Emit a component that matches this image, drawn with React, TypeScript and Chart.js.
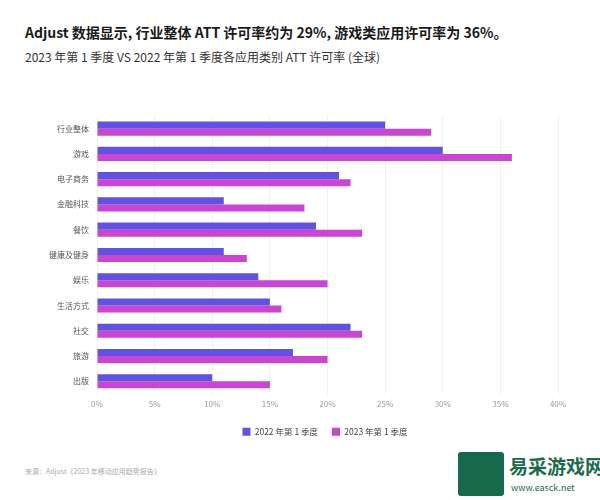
import React, { useEffect, useRef } from "react";
import { Chart, registerables } from "chart.js";

Chart.register(...registerables);

const categories = ["行业整体", "游戏", "电子商务", "金融科技", "餐饮", "健康及健身", "娱乐", "生活方式", "社交", "旅游", "出版"];
const series2022 = [25, 30, 21, 11, 19, 11, 14, 15, 22, 17, 10];
const series2023 = [29, 36, 22, 18, 23, 13, 20, 16, 23, 20, 15];
const seriesLabels = ["2022 年第 1 季度", "2023 年第 1 季度"];
const xTicks = [0, 5, 10, 15, 20, 25, 30, 35, 40];

const FONT = "'Noto Sans CJK SC', 'Noto Sans', sans-serif";

const legendShift = {
  id: "legendShift",
  afterLayout(chart: any) {
    const lg = chart.legend;
    if (lg) {
      lg.left += 46;
      lg.right += 46;
    }
  },
};

export default function App() {
  const ref = useRef<HTMLCanvasElement>(null);
  useEffect(() => {
    if (!ref.current) return;
    const chart = new Chart(ref.current, {
      type: "bar",
      data: {
        labels: categories,
        datasets: [
          { label: seriesLabels[0], data: series2022, backgroundColor: "#6352e0", borderWidth: 0, categoryPercentage: 0.56, barPercentage: 1 },
          { label: seriesLabels[1], data: series2023, backgroundColor: "#c946d2", borderWidth: 0, categoryPercentage: 0.56, barPercentage: 1 },
        ],
      },
      options: {
        indexAxis: "y",
        animation: false,
        responsive: false,
        maintainAspectRatio: false,
        layout: { padding: { left: 0, right: 42, top: 16, bottom: 0 } },
        scales: {
          x: {
            min: 0,
            max: 40,
            afterBuildTicks: (s: any) => { s.ticks = xTicks.map((v) => ({ value: v })); },
            grid: { color: "#f1f1f3", drawTicks: false },
            border: { display: false },
            ticks: { color: "#9a9a9a", font: { family: FONT, size: 8 }, padding: 5, callback: (v: any) => v + "%" },
          },
          y: {
            grid: { display: false, drawTicks: false },
            border: { display: false },
            afterFit: (s: any) => { s.width = 97; },
            ticks: { color: "#555", font: { family: FONT, size: 8 }, padding: 8 },
          },
        },
        plugins: {
          legend: {
            position: "bottom",
            labels: { boxWidth: 8, boxHeight: 8, color: "#444", font: { family: FONT, size: 8.5 }, padding: 14 },
          },
          tooltip: { enabled: false },
          title: { display: false },
        },
      },
      plugins: [legendShift],
    });
    return () => chart.destroy();
  }, []);

  return (
    <div style={{ position: "absolute", left: 0, top: 0, width: 600, height: 500, background: "#fff", fontFamily: FONT, overflow: "hidden" }}>
      <div style={{ position: "absolute", left: 25, top: 22, fontSize: 14, fontWeight: 700, color: "#1a1a1a", whiteSpace: "nowrap", lineHeight: "20px" }}>
        Adjust 数据显示, 行业整体 ATT 许可率约为 29%, 游戏类应用许可率为 36%。
      </div>
      <div style={{ position: "absolute", left: 25, top: 49, fontSize: 12, color: "#333", whiteSpace: "nowrap", lineHeight: "16px" }}>
        2023 年第 1 季度 VS 2022 年第 1 季度各应用类别 ATT 许可率 (全球)
      </div>
      <canvas ref={ref} width={600} height={346} style={{ position: "absolute", left: 0, top: 100, width: 600, height: 346 }} />
      <div style={{ position: "absolute", left: 25, top: 466, fontSize: 7, color: "#aaa", whiteSpace: "nowrap" }}>
        来源：Adjust《2023 年移动应用趋势报告》
      </div>
      <div style={{ position: "absolute", left: 458, top: 452, width: 46, height: 44, background: "#16694a", borderRadius: 3 }} />
      <div style={{ position: "absolute", left: 509, top: 454, fontSize: 19, fontWeight: 700, color: "#1c6b4a", whiteSpace: "nowrap", lineHeight: "24px" }}>
        易采游戏网
      </div>
      <div style={{ position: "absolute", left: 511, top: 481, fontSize: 9, color: "#1c6b4a", whiteSpace: "nowrap" }}>
        www.easck.net
      </div>
    </div>
  );
}
